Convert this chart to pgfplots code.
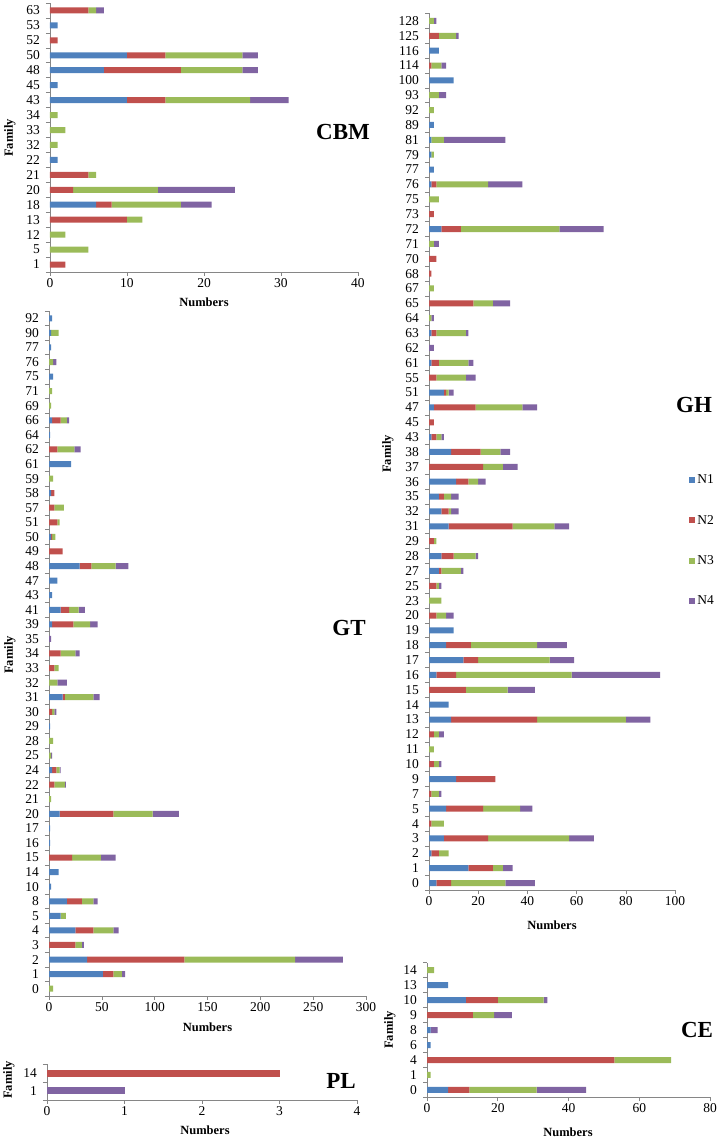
\documentclass[border=0pt]{standalone}
\usepackage{pgfplots}
\pgfplotsset{compat=1.18}
\usepackage{pgfplotstable}
\usepackage{fontspec}
\setmainfont{Liberation Serif}

\definecolor{cN1}{HTML}{4F81BD}
\definecolor{cN2}{HTML}{C0504D}
\definecolor{cN3}{HTML}{9BBB59}
\definecolor{cN4}{HTML}{8064A2}
\definecolor{axgray}{HTML}{868686}

\newcommand\tfont{\fontsize{13.5}{14}\selectfont}
\newcommand\lfont{\fontsize{12.5}{13}\selectfont\bfseries}
\newcommand\pfont{\fontsize{23}{24}\selectfont\bfseries}

% family N1 N2 N3 N4, bottom row first
\pgfplotstableread{
fam N1 N2 N3 N4
1 0 2 0 0
5 0 0 5 0
12 0 0 2 0
13 0 10 2 0
18 6 2 9 4
20 0 3 11 10
21 0 5 1 0
22 1 0 0 0
32 0 0 1 0
33 0 0 2 0
34 0 0 1 0
43 10 5 11 5
45 1 0 0 0
48 7 10 8 2
50 10 5 10 2
52 0 1 0 0
53 1 0 0 0
63 0 5 1 1
}\cbm

\pgfplotstableread{
fam N1 N2 N3 N4
0 0 0 4 0
1 51 10 8 3
2 36 92 105 45
3 0 25 6 2
4 25 17 19 5
5 11 0 5 0
8 17 14 11 4
10 2 0 0 0
14 9 0 0 0
15 0 22 27 14
16 1 0 0 0
17 1 0 0 0
20 10 51 37 25
21 0 0 2 0
22 0 5 10 1
24 3 4 3 1
25 0 0 2 1
28 0 0 4 0
29 1 0 0 0
30 0 3 2 2
31 13 2 27 6
32 0 0 8 9
33 0 5 4 0
34 0 11 14 4
35 0 0 0 2
39 3 20 16 7
41 11 8 9 6
43 3 0 0 0
47 8 0 0 0
48 29 11 23 12
49 0 13 0 0
50 2 1 3 0
51 0 8 2 0
57 0 5 9 0
58 2 3 0 0
59 0 0 4 0
61 21 0 0 0
62 0 8 16 6
64 1 0 0 0
66 3 8 6 2
69 0 0 2 0
71 0 0 3 0
75 4 0 0 0
76 0 0 4 3
77 2 0 0 0
90 2 0 7 0
92 3 0 0 0
}\gt

\pgfplotstableread{
fam N1 N2 N3 N4
1 0 0 0 1
14 0 3 0 0
}\pl

\pgfplotstableread{
fam N1 N2 N3 N4
0 3 6 22 12
1 16 10 4 4
2 1 3 4 0
3 6 18 33 10
4 0 1 5 0
5 7 15 15 5
7 0 1 3 1
9 11 16 0 0
10 0 2 2 1
11 0 0 2 0
12 0 2 2 2
13 9 35 36 10
14 8 0 0 0
15 0 15 17 11
16 3 8 47 36
17 14 6 29 10
18 7 10 27 12
19 10 0 0 0
20 0 3 4 3
23 0 0 5 0
25 0 3 1 1
27 4 1 8 1
28 5 5 9 1
29 0 2 1 0
31 8 26 17 6
32 5 3 1 3
35 4 2 3 3
36 11 5 4 3
37 0 22 8 6
38 9 12 8 4
43 1 2 2 1
45 0 2 0 0
47 2 17 19 6
51 6 1 1 2
55 0 3 12 4
61 1 3 12 2
62 0 0 0 2
63 1 2 12 1
64 0 0 1 1
65 0 18 8 7
67 0 0 2 0
68 0 1 0 0
70 0 3 0 0
71 0 0 2 2
72 5 8 40 18
73 0 2 0 0
75 0 0 4 0
76 1 2 21 14
77 2 0 0 0
79 1 0 1 0
81 1 0 5 25
89 2 0 0 0
92 0 0 2 0
93 0 0 4 3
100 10 0 0 0
114 0 1 4 2
116 4 0 0 0
125 0 4 7 1
128 0 0 2 1
}\gh

\pgfplotstableread{
fam N1 N2 N3 N4
0 6 6 19 14
1 0 0 1 0
4 0 53 16 0
6 1 0 0 0
8 1 0 0 2
9 0 13 6 5
10 11 9 13 1
13 6 0 0 0
14 0 0 2 0
}\ce

\pgfplotsset{
  panel/.style={
    scale only axis, anchor=south west,
    xbar stacked, bar width=6pt,
    axis lines*=left,
    axis line style={axgray},
    every tick/.style={axgray, line width=0.6pt},
    tick align=outside,
    major tick length=0pt, minor tick length=4pt,
    ymin=-0.5, ytick=data,
    xmin=0,
    tick label style={font=\tfont},
    /pgf/number format/assume math mode=true,
    yticklabel style={anchor=east, inner sep=0pt, xshift=-10pt},
    xticklabel style={anchor=north, inner sep=0pt, yshift=-6pt},
    legend image code/.code={\fill[##1] (0pt,-3pt) rectangle (6pt,3pt);},
  },
  n1/.style={fill=cN1, draw=none},
  n2/.style={fill=cN2, draw=none},
  n3/.style={fill=cN3, draw=none},
  n4/.style={fill=cN4, draw=none},
}

\begin{document}
\begin{tikzpicture}
\useasboundingbox (0pt,0pt) rectangle (720pt,1140pt);

% CBM
\begin{axis}[panel, at={(50pt,868pt)}, width=308pt, height=269pt,
  xmax=40, xtick={0,10,...,40}, minor xtick={0,10,...,40},
  ymax=17.5, minor ytick={-0.5,0.5,...,17.5},
  yticklabels from table={\cbm}{fam}]
  \addplot[n1] table[x=N1, y expr=\coordindex] {\cbm};
  \addplot[n2] table[x=N2, y expr=\coordindex] {\cbm};
  \addplot[n3] table[x=N3, y expr=\coordindex] {\cbm};
  \addplot[n4] table[x=N4, y expr=\coordindex] {\cbm};
\end{axis}

% GT
\begin{axis}[panel, at={(49pt,144pt)}, width=317pt, height=685pt,
  xmax=300, xtick={0,50,...,300}, minor xtick={0,50,...,300},
  ymax=46.5, minor ytick={-0.5,0.5,...,46.5},
  yticklabels from table={\gt}{fam}]
  \addplot[n1] table[x=N1, y expr=\coordindex] {\gt};
  \addplot[n2] table[x=N2, y expr=\coordindex] {\gt};
  \addplot[n3] table[x=N3, y expr=\coordindex] {\gt};
  \addplot[n4] table[x=N4, y expr=\coordindex] {\gt};
\end{axis}

% PL
\begin{axis}[panel, at={(47pt,40pt)}, width=310pt, height=36pt, bar width=7pt,
  xmax=4, xtick={0,1,...,4}, minor xtick={0,1,...,4},
  ymax=1.5, minor ytick={-0.5,0.5,1.5},
  yticklabels from table={\pl}{fam}]
  \addplot[n1] table[x=N1, y expr=\coordindex] {\pl};
  \addplot[n2] table[x=N2, y expr=\coordindex] {\pl};
  \addplot[n3] table[x=N3, y expr=\coordindex] {\pl};
  \addplot[n4] table[x=N4, y expr=\coordindex] {\pl};
\end{axis}

% GH
\begin{axis}[panel, at={(429pt,249.5pt)}, width=246pt, height=877pt,
  xmax=100, xtick={0,20,...,100}, minor xtick={0,20,...,100},
  ymax=58.5, minor ytick={-0.5,0.5,...,58.5},
  yticklabels from table={\gh}{fam},
  legend style={draw=none, fill=none, inner sep=0pt,
    at={(rel axis cs:1.058,0.4755)}, anchor=north west,
    font=\tfont, row sep=28pt, column sep=1pt,
    nodes={inner sep=1pt}},
  legend cell align=left]
  \addplot[n1] table[x=N1, y expr=\coordindex] {\gh};
  \addplot[n2] table[x=N2, y expr=\coordindex] {\gh};
  \addplot[n3] table[x=N3, y expr=\coordindex] {\gh};
  \addplot[n4] table[x=N4, y expr=\coordindex] {\gh};
  \legend{N1,N2,N3,N4}
\end{axis}

% CE
\begin{axis}[panel, at={(427pt,42.5pt)}, width=283pt, height=135pt,
  xmax=80, xtick={0,20,...,80}, minor xtick={0,20,...,80},
  ymax=8.5, minor ytick={-0.5,0.5,...,8.5},
  yticklabels from table={\ce}{fam}]
  \addplot[n1] table[x=N1, y expr=\coordindex] {\ce};
  \addplot[n2] table[x=N2, y expr=\coordindex] {\ce};
  \addplot[n3] table[x=N3, y expr=\coordindex] {\ce};
  \addplot[n4] table[x=N4, y expr=\coordindex] {\ce};
\end{axis}

% axis titles and panel names
\node[font=\lfont] at (204pt,838pt) {Numbers};
\node[font=\lfont] at (207.5pt,113pt) {Numbers};
\node[font=\lfont] at (205pt,10pt) {Numbers};
\node[font=\lfont] at (552pt,215pt) {Numbers};
\node[font=\lfont] at (568pt,8pt) {Numbers};
\node[font=\lfont, rotate=90] at (10pt,1002pt) {Family};
\node[font=\lfont, rotate=90] at (10pt,485pt) {Family};
\node[font=\lfont, rotate=90] at (9pt,60pt) {Family};
\node[font=\lfont, rotate=90] at (388pt,686pt) {Family};
\node[font=\lfont, rotate=90] at (390pt,110pt) {Family};
\node[font=\pfont] at (343pt,1008pt) {CBM};
\node[font=\pfont] at (349pt,512pt) {GT};
\node[font=\pfont] at (341pt,59pt) {PL};
\node[font=\pfont] at (694pt,735pt) {GH};
\node[font=\pfont] at (697pt,110pt) {CE};
\end{tikzpicture}
\end{document}
